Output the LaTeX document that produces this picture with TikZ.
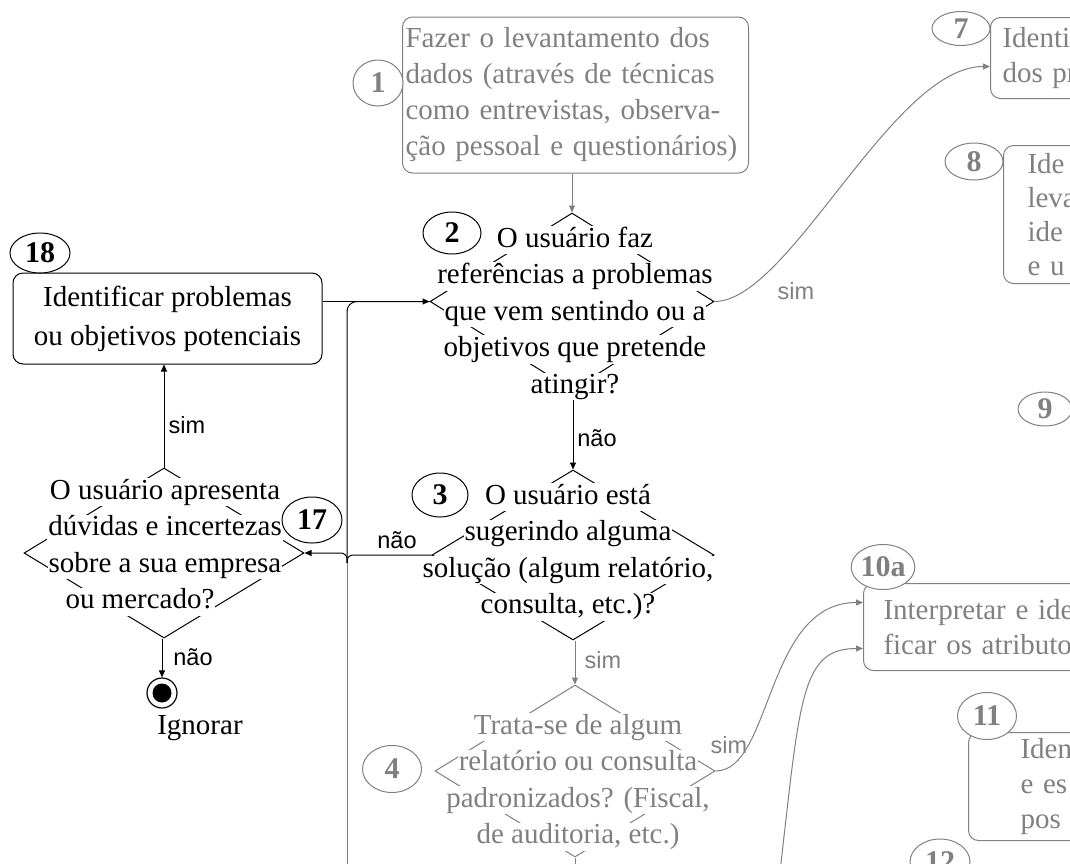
\documentclass[tikz,border=0pt]{standalone}
\usepackage{fontspec}
\setmainfont{Liberation Serif}
\newfontfamily\lblfont{Liberation Sans}
\usetikzlibrary{shapes.geometric,arrows.meta}
\definecolor{gry}{RGB}{128,128,128}
\newcommand{\wl}[1]{{\setlength{\fboxsep}{1pt}\colorbox{white}{#1\vphantom{Ag}}}}
\begin{document}
\begin{tikzpicture}[x=1pt,y=-1pt,
  bx/.style={draw, rounded corners=10pt, line width=1pt, inner ysep=0pt},
  rbx/.style={bx, draw=gry, text=gry, anchor=north west, align=left, text width=300pt, font=\fontsize{29}{35}\selectfont},
  dia/.style={shape=diamond, draw, line width=1pt, inner sep=0pt},
  dtxt/.style={align=center, inner sep=0pt, font=\fontsize{29}{36.5}\selectfont},
  numb/.style={ellipse, draw, fill=white, line width=1pt, inner sep=0pt, font=\fontsize{30}{30}\selectfont\bfseries},
  lbl/.style={inner sep=0pt, font=\lblfont\fontsize{23.5}{24}\selectfont},
  gline/.style={draw=gry, line width=1pt},
  bline/.style={draw=black, line width=1pt},
  arrw/.style={-{Triangle[length=7pt,width=6pt]}}
]
\useasboundingbox (0,0) rectangle (1070,863);
\clip (0,0) rectangle (1070,863);

% boxes
\node[bx, draw=gry, text=gry, minimum width=346pt, minimum height=156pt, text width=340pt, inner xsep=3pt, align=left, font=\fontsize{29}{36}\selectfont] (b1) at (575.5,95) {Fazer o levantamento dos\\dados (através de técnicas\\como entrevistas, observa-\\ção pessoal e questionários)};
\node[bx, minimum width=309pt, minimum height=91pt, align=center, font=\fontsize{29}{39}\selectfont] (b18) at (167.5,318.5) {Identificar problemas\\ou objetivos potenciais};
\node[rbx, minimum height=81pt, inner xsep=12pt] (b7) at (990,17) {Identi\\dos pr};
\node[rbx, minimum height=138pt, inner xsep=24pt, font=\fontsize{29}{34}\selectfont] (b8) at (1003,145) {Ide\\leva\\ide\\e u};
\node[rbx, minimum height=87pt, inner xsep=20pt] (b10a) at (863,583) {Interpretar e ide\\ficar os atributo};
\node[rbx, minimum height=108pt, inner xsep=52pt] (b11) at (968,732) {Iden\\e es\\pos};

% diamonds
\node[dia, minimum width=284pt, minimum height=177pt] (d2) at (572,301.5) {};
\node[dia, minimum width=282pt, minimum height=170pt] (d3) at (573,555) {};
\node[dia, draw=gry, minimum width=280pt, minimum height=172pt] (d4) at (575,771) {};
\node[dia, minimum width=280pt, minimum height=170pt] (d17) at (164,553) {};

% end node
\node[circle, draw, line width=1.2pt, minimum size=30pt, inner sep=0pt] (end) at (162,693) {};
\node[circle, fill=black, minimum size=19pt, inner sep=0pt] (endc) at (end.center) {};

% connectors
\coordinate (J) at (347,563);
\coordinate (Jb) at (347,880);
\coordinate (c10) at (779,880);
\coordinate (d4b) at (575,880);
\draw[gline, arrw] (d2.north |- b1.south) -- (d2.north);
\draw[bline, arrw] (b18.east |- d2.west) -- (d2.west);
\draw[bline, rounded corners=10pt] (J) |- (d2.west);
\draw[bline, rounded corners=6pt] (d3.west) -| (J);
\draw[bline, arrw, rounded corners=6pt] (J) |- (d17.east);
\draw[gline] (J) -- (Jb);
\draw[bline, arrw] (d3.north |- d2.south) -- (d3.north);
\draw[gline, arrw] (d4.north |- d3.south) -- (d4.north);
\draw[bline, arrw] (d17.north) -- (d17.north |- b18.south);
\draw[bline, arrw] (end.north |- d17.south) -- (end.north);
\draw[gline, arrw] (d2.east) .. controls +(75,0) and +(-98,0) .. ([yshift=-8.5pt]b7.west);
\draw[gline, arrw] (d4.east) .. controls +(57,0) and +(-98,0) .. ([yshift=24.5pt]b10a.west);
\draw[gline, arrw] (c10) .. controls +(21,-180) and +(-63,0) .. ([yshift=-21.5pt]b10a.west);
\draw[gline] (d4.south) -- (d4b);

% diamond texts
\node[dtxt] (t2) at (575,313) {\wl{O usuário faz}\\\wl{referências a problemas}\\\wl{que vem sentindo ou a}\\\wl{objetivos que pretende}\\\wl{atingir?}};
\node[dtxt] (t3) at (568,552) {\wl{O usuário está}\\\wl{sugerindo alguma}\\\wl{solução (algum relatório,}\\\wl{consulta, etc.)?}};
\node[dtxt, text=gry] (t4) at (578,782) {\wl{Trata-se de algum}\\\wl{relatório ou consulta}\\\wl{padronizados? (Fiscal,}\\\wl{de auditoria, etc.)}};
\node[dtxt] (t17) at (165,547) {\wl{O usuário apresenta}\\\wl{dúvidas e incertezas}\\\wl{sobre a sua empresa}\\\wl{ou mercado?}\rule{50pt}{0pt}};
\node[inner sep=0pt, font=\fontsize{29}{36}\selectfont] (ign) at (200,728) {Ignorar};

% numbered ellipses
\node[numb, draw=gry, text=gry, minimum width=50pt, minimum height=46pt] (n1) at (378,83) {1};
\node[numb, minimum width=58pt, minimum height=42pt] (n2) at (452,233) {2};
\node[numb, minimum width=60pt, minimum height=40pt] (n18) at (40,253) {18};
\node[numb, minimum width=60pt, minimum height=46pt] (n17) at (312,520) {17};
\node[numb, minimum width=56pt, minimum height=44pt] (n3) at (440,495) {3};
\node[numb, draw=gry, text=gry, minimum width=59pt, minimum height=47pt] (n4) at (392,769) {4};
\node[numb, draw=gry, text=gry, minimum width=58pt, minimum height=34pt] (n7) at (961,28.5) {7};
\node[numb, draw=gry, text=gry, minimum width=58pt, minimum height=37pt] (n8) at (974,161.5) {8};
\node[numb, draw=gry, text=gry, minimum width=54pt, minimum height=34pt] (n9) at (1045,409) {9};
\node[numb, draw=gry, text=gry, minimum width=60pt, minimum height=45pt] (n10a) at (883,567) {10a};
\node[numb, draw=gry, text=gry, minimum width=59pt, minimum height=47pt] (n11) at (987,716) {11};
\node[numb, draw=gry, text=gry, minimum width=60pt, minimum height=46pt] (n12) at (940,862) {12};

% labels
\node[lbl] (l18) at (187,425) {sim};
\node[lbl] (lend) at (193,657) {não};
\node[lbl] (l23) at (597,438) {não};
\node[lbl] (l317) at (397,540) {não};
\node[lbl, text=gry] (l34) at (603,660) {sim};
\node[lbl, text=gry] (l410) at (729,745) {sim};
\node[lbl, text=gry] (l27) at (796,291) {sim};
\end{tikzpicture}
\end{document}
